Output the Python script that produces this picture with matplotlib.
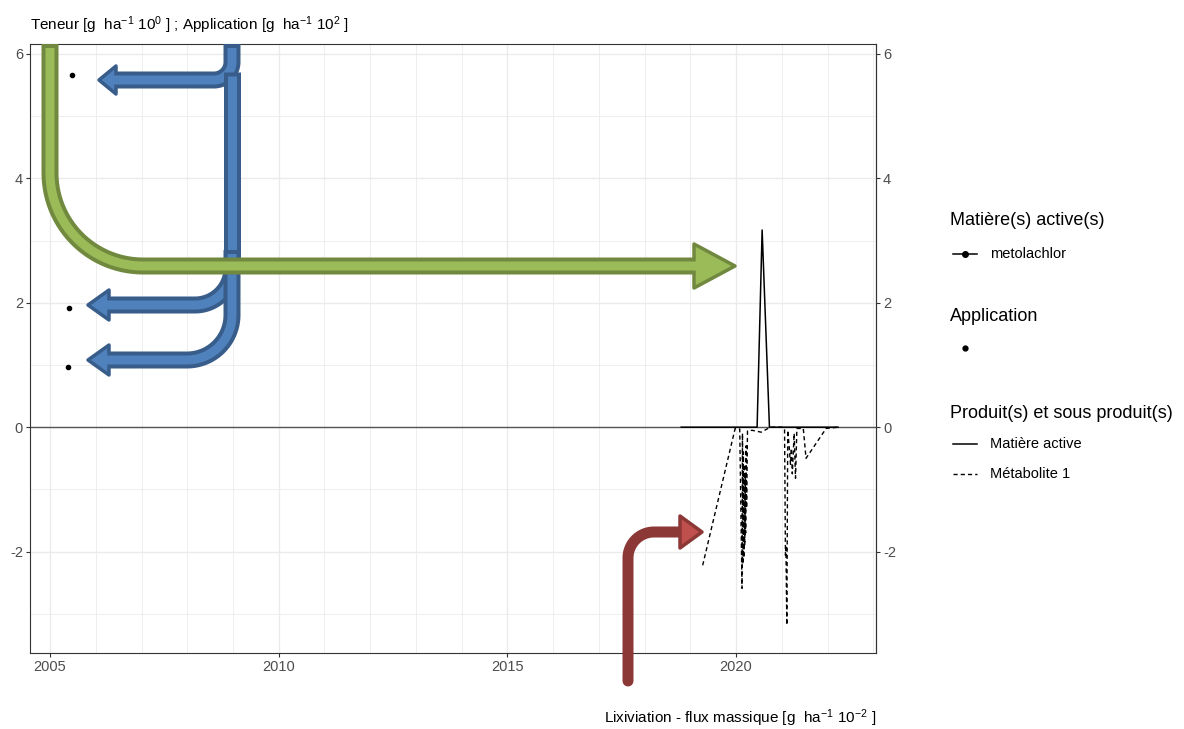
import numpy as np
import matplotlib
matplotlib.use("Agg")
import matplotlib.pyplot as plt
from matplotlib.lines import Line2D
from matplotlib.patches import Polygon

plt.rcParams["font.family"] = ["Liberation Sans", "DejaVu Sans"]
plt.rcParams["mathtext.fontset"] = "custom"
plt.rcParams["mathtext.rm"] = "Liberation Sans"
plt.rcParams["mathtext.default"] = "regular"
plt.rcParams["axes.unicode_minus"] = False

# --- data (decimal years) ---
app_x = [2005.48, 2005.42, 2005.39]
app_y = [5.66, 1.91, 0.96]

ma_x = [2018.80, 2019.50, 2020.00, 2020.46, 2020.57, 2020.73, 2021.20, 2021.80, 2022.23]
ma_y = [0.0, 0.0, 0.0, 0.0, 3.17, 0.0, 0.0, 0.0, 0.0]

met_x = [2019.27, 2019.98, 2020.08, 2020.13, 2020.14, 2020.15, 2020.16, 2020.17,
         2020.18, 2020.19, 2020.20, 2020.21, 2020.22, 2020.23, 2020.25, 2020.35,
         2020.55, 2020.75, 2021.00, 2021.06, 2021.08, 2021.09, 2021.11, 2021.13,
         2021.16, 2021.19, 2021.21, 2021.23, 2021.27, 2021.30, 2021.33, 2021.47,
         2021.53, 2021.97, 2022.23]
met_y = [-2.22, -0.02, -0.03, -2.59, -0.10, -2.20, -0.40, -2.10,
         -0.60, -1.90, -0.80, -1.70, -0.30, -1.30, -0.06, -0.05,
         -0.08, 0.00, 0.00, -0.03, -2.06, -1.90, -3.18, -0.05,
         -0.30, -0.60, -0.34, -0.75, -0.10, -0.82, -0.02, -0.02,
         -0.50, -0.02, 0.00]

x_ticks = [2005, 2010, 2015, 2020]
y_ticks = [-2, 0, 2, 4, 6]

W, H = 1184, 729
fig = plt.figure(figsize=(W / 100, H / 100), dpi=100)
ax = fig.add_axes([30 / W, 76 / H, 846 / W, 609 / H])

ax.set_xlim(2004.56, 2023.06)
ax.set_ylim(-3.63, 6.16)
ax.set_xticks(x_ticks)
ax.set_xticks(np.arange(2005, 2024), minor=True)
ax.set_yticks(y_ticks)
ax.set_yticks([-3, -1, 1, 3, 5], minor=True)
ax.grid(True, which="major", color="#EBEBEB", lw=1.0)
ax.grid(True, which="minor", color="#EBEBEB", lw=0.6)
ax.set_axisbelow(True)
for s in ax.spines.values():
    s.set_color("#333333")
    s.set_linewidth(0.8)
ax.tick_params(which="major", length=3, width=0.8, color="#333333",
               labelcolor="#4D4D4D", labelsize=10.5, pad=2)
ax.tick_params(which="minor", length=0)

ax2 = ax.secondary_yaxis("right")
ax2.set_yticks(y_ticks)
ax2.tick_params(length=3, width=0.8, color="#333333",
                labelcolor="#4D4D4D", labelsize=10.5, pad=2)
ax2.spines["right"].set_color("#333333")

DASH = (0, (3, 2.2))
ax.axhline(0, color="#555555", lw=1.0, zorder=2)
ax.plot(ma_x, ma_y, color="black", lw=1.1, zorder=3)
ax.plot(met_x, met_y, color="black", lw=1.0, ls=DASH, zorder=3)
ax.scatter(app_x, app_y, s=9, color="black", zorder=4)

# --- overlay in pixel coordinates for annotations / legend ---
ov = fig.add_axes([0, 0, 1, 1], zorder=10)
ov.set_xlim(0, W)
ov.set_ylim(H, 0)
ov.axis("off")
ov.patch.set_alpha(0)

fig.text(30 / W, 1 - 25 / H,
         "Teneur [g  ha$^{−1}$ 10$^{0}$ ] ; Application [g  ha$^{−1}$ 10$^{2}$ ]",
         fontsize=11, va="center", ha="left")
fig.text(876 / W, 1 - 718 / H,
         "Lixiviation - flux massique [g  ha$^{-1}$ 10$^{-2}$ ]",
         fontsize=11, va="center", ha="right")


def arc(cx, cy, r, a0, a1, n=30):
    a = np.radians(np.linspace(a0, a1, n))
    return list(zip(cx + r * np.cos(a), cy + r * np.sin(a)))


def trim(pts, d, end=False):
    pts = np.array(pts, dtype=float)
    if end:
        pts = pts[::-1].copy()
    v = pts[1] - pts[0]
    pts[0] = pts[0] + v / np.hypot(*v) * d
    return pts[::-1] if end else pts


zc = [20]


def arrow(pts, tip=None, half=0, base=0, fill="w", edge="k", outer=17, inner=9,
          cap="butt", trim_end=False):
    pts = np.array(pts, dtype=float)
    z = zc[0]
    zc[0] += 3
    ov.plot(pts[:, 0], pts[:, 1], color=edge, lw=outer * 0.72,
            solid_capstyle=cap, solid_joinstyle="round", zorder=z)
    if tip is not None:
        tx, ty = tip
        head = [(tx, ty), (base, ty - half), (base, ty + half)]
        ov.add_patch(Polygon(head, closed=True, facecolor=fill, edgecolor=edge,
                             lw=3.5 * 0.72, joinstyle="round", zorder=z + 1))
    if inner > 0:
        d = (outer - inner) / 2
        ip = trim(pts, d)
        if trim_end:
            ip = trim(ip, d, end=True)
        ov.plot(ip[:, 0], ip[:, 1], color=fill, lw=inner * 0.72,
                solid_capstyle="butt", solid_joinstyle="round", zorder=z + 2)


GF, GE = "#9BBB59", "#71893F"
BF, BE = "#4F81BD", "#385D8A"
RF, RE = "#C0504D", "#8C3836"

# blue
p = [(232, 44)] + arc(214, 62, 18, 0, 90) + [(113, 80)]
arrow(p, (99, 80), 14, 116, BF, BE, 17, 9)
p = [(232, 72), (232, 258)]
arrow(p, fill=BF, edge=BE, outer=17, inner=9, trim_end=True)
p = [(232, 258)] + arc(195, 268, 37, 0, 90) + [(106, 305)]
arrow(p, (88, 305), 15, 109, BF, BE, 17, 9)
p = [(232, 250)] + arc(187, 315, 45, 0, 90) + [(106, 360)]
arrow(p, (88, 360), 15, 109, BF, BE, 17, 9)

# green (drawn over the blue bar)
p = [(50, 44)] + arc(143, 173, 93, 180, 90) + [(700, 266)]
arrow(p, (735, 266), 22, 694, GF, GE, 17, 9)

# red
p = [(628, 681)] + arc(654, 558, 26, 180, 270) + [(684, 532)]
arrow(p, (702, 532), 16, 680, RF, RE, 11, 0, cap="round")

# --- legend ---
lx = 950
ov.text(lx, 220, "Matière(s) active(s)", fontsize=13, va="center")
ov.add_line(Line2D([953, 977], [254, 254], color="black", lw=1.1))
ov.plot([965], [254], "o", color="black", ms=4)
ov.text(990, 254, "metolachlor", fontsize=10.5, va="center")

ov.text(lx, 316, "Application", fontsize=13, va="center")
ov.plot([965], [348], "o", color="black", ms=3.5)

ov.text(lx, 413, "Produit(s) et sous produit(s)", fontsize=13, va="center")
ov.add_line(Line2D([953, 977], [444, 444], color="black", lw=1.1))
ov.text(990, 444, "Matière active", fontsize=10.5, va="center")
ov.add_line(Line2D([953, 977], [474, 474], color="black", lw=1.0, ls=DASH))
ov.text(990, 474, "Métabolite 1", fontsize=10.5, va="center")

fig.savefig("out.png", dpi=100)
